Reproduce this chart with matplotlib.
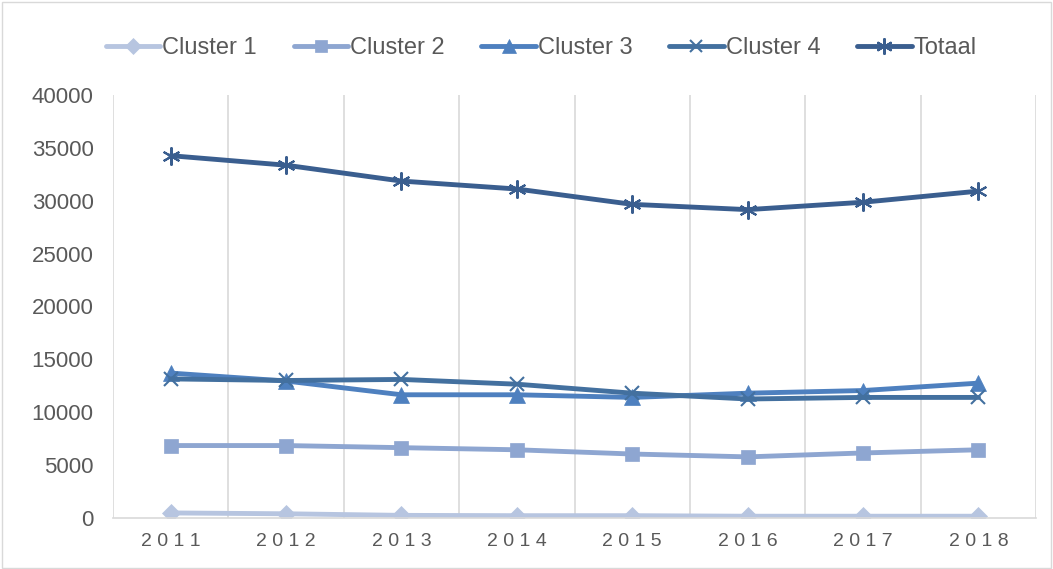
import matplotlib
matplotlib.use('agg')

from matplotlib import pyplot as plt
from matplotlib.ticker import FixedLocator
import numpy as np

plt.rcParams['font.family'] = ['Liberation Sans', 'DejaVu Sans']

years = ['2011', '2012', '2013', '2014', '2015', '2016', '2017', '2018']
cluster_1 = [480, 400, 250, 220, 220, 170, 170, 170]
cluster_2 = [6850, 6850, 6650, 6450, 6050, 5780, 6150, 6450]
cluster_3 = [13700, 12950, 11650, 11650, 11400, 11800, 12050, 12750]
cluster_4 = [13150, 13000, 13100, 12650, 11800, 11250, 11400, 11400]
totaal = [34250, 33350, 31850, 31100, 29650, 29150, 29850, 30900]

series = [
    ('Cluster 1', cluster_1, '#B7C5E0', 'D', 9),
    ('Cluster 2', cluster_2, '#8EA6D1', 's', 10),
    ('Cluster 3', cluster_3, '#4E80BF', '^', 11),
    ('Cluster 4', cluster_4, '#43709F', 'x', 10),
    ('Totaal', totaal, '#3A5E8F', (6, 2, 0), 13),
]

fig = plt.figure(figsize=(10.53, 5.69), dpi=100)
ax = fig.add_axes([0.1073, 0.0896, 0.8767, 0.7437])

x = np.arange(len(years))
for label, values, color, marker, size in series:
    thin = marker == 'x' or isinstance(marker, tuple)
    ax.plot(x, values, color=color, linewidth=3.5, marker=marker, markersize=size,
            markeredgewidth=1.5 if thin else 0.5,
            markeredgecolor=color, markerfacecolor=color, label=label,
            solid_capstyle='round')

ax.set_xlim(-0.5, len(years) - 0.5)
ax.set_ylim(0, 40000)
ax.set_yticks(range(0, 40001, 5000))
ax.set_yticklabels([str(v) for v in range(0, 40001, 5000)], fontsize=16, color='#595959')
ax.set_xticks(x)
ax.set_xticklabels([' '.join(y) for y in years], fontsize=14, color='#595959')
ax.xaxis.set_minor_locator(FixedLocator(np.arange(-0.5, len(years), 1.0)))
ax.grid(True, axis='x', which='minor', color='#D9D9D9', linewidth=1.2)
ax.tick_params(axis='both', which='both', length=0)
ax.tick_params(axis='x', pad=11)
ax.tick_params(axis='y', pad=14)

for side in ('top', 'right', 'left'):
    ax.spines[side].set_visible(False)
ax.spines['bottom'].set_color('#D9D9D9')
ax.spines['bottom'].set_linewidth(1.2)

ax.legend(loc='lower center', bbox_to_anchor=(0.464, 1.035), ncol=5, frameon=False,
          fontsize=17, labelcolor='#595959', handlelength=2.3, handletextpad=0.1,
          columnspacing=1.55, markerscale=0.9)

fig.patches.append(plt.Rectangle((0.002, 0.002), 0.996, 0.994, transform=fig.transFigure,
                                 fill=False, edgecolor='#D9D9D9', linewidth=1))

plt.savefig('out.png', dpi=100)
